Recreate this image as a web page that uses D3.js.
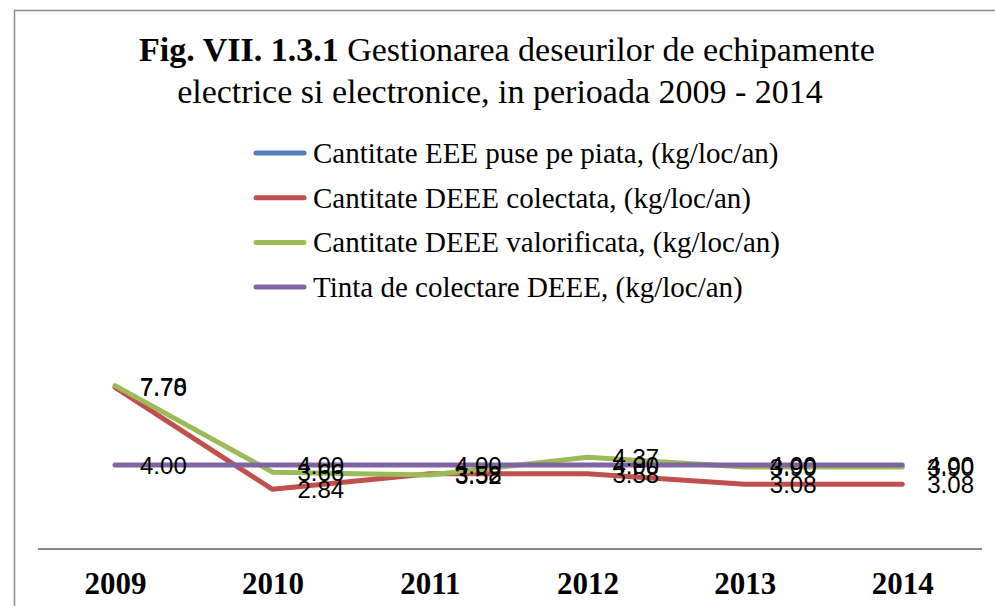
<!DOCTYPE html>
<html>
<head>
<meta charset="utf-8">
<script src="https://cdn.jsdelivr.net/npm/d3@7"></script>
<style>
  body { margin: 0; background: #fff; }
</style>
</head>
<body>
<script>
// chart data
var years = ["2009", "2010", "2011", "2012", "2013", "2014"];
var eeePiata = [null, null, null, null, null, null]; // no values shown in the figure
var deeeColectata = [7.70, 2.84, 3.58, 3.58, 3.08, 3.08];
var deeeValorificata = [7.78, 3.66, 3.52, 4.37, 3.90, 3.90];
var tintaColectare = [4.00, 4.00, 4.00, 4.00, 4.00, 4.00];
var seriesNames = [
    "Cantitate EEE puse pe piata, (kg/loc/an)",
    "Cantitate DEEE colectata, (kg/loc/an)",
    "Cantitate DEEE valorificata, (kg/loc/an)",
    "Tinta de colectare DEEE, (kg/loc/an)"
];
var seriesColors = ["#4F81BD", "#C0504D", "#9BBB59", "#8064A2"];

var w = 995;
var h = 606;

var svg = d3.select("body").append("svg")
    .attr("width", w)
    .attr("height", h);

// outer chart border (chart is cut off at right/bottom)
svg.append("path")
    .attr("d", "M14.5," + (h + 2) + "V10.5H" + (w + 2))
    .attr("fill", "none")
    .attr("stroke", "#8c8c8c")
    .attr("stroke-width", 1.5);

// title
var title = svg.append("text")
    .attr("text-anchor", "middle")
    .attr("font-family", "Liberation Serif, serif")
    .attr("font-size", 34)
    .attr("fill", "#000");
var t1 = title.append("tspan").attr("x", 507).attr("y", 61);
t1.append("tspan").attr("font-weight", "bold").text("Fig. VII. 1.3.1");
t1.append("tspan").text(" Gestionarea deseurilor de echipamente");
title.append("tspan").attr("x", 500).attr("y", 103)
    .text("electrice si electronice, in perioada 2009 - 2014");

// legend
var legend = svg.append("g");
seriesNames.forEach(function(name, i) {
    var ly = 153 + i * 44.7;
    legend.append("line")
        .attr("x1", 256).attr("x2", 304)
        .attr("y1", ly).attr("y2", ly)
        .attr("stroke", seriesColors[i])
        .attr("stroke-width", 5)
        .attr("stroke-linecap", "round");
    legend.append("text")
        .attr("x", 313)
        .attr("y", ly + 10)
        .attr("font-family", "Liberation Serif, serif")
        .attr("font-size", 29)
        .attr("fill", "#000")
        .text(name);
});

// scales
var x = d3.scalePoint()
    .domain(years)
    .range([36.3, 981])
    .padding(0.5);

var y = d3.scaleLinear()
    .domain([0, 10])
    .range([549, 339]);

// x axis
var xAxis = svg.append("g")
    .attr("transform", "translate(0," + y(0) + ")")
    .call(d3.axisBottom(x).tickSize(0).tickPadding(23));
xAxis.select(".domain")
    .attr("d", "M38,0H982")
    .attr("stroke", "#868686")
    .attr("stroke-width", 2);
xAxis.selectAll("text")
    .attr("font-family", "Liberation Serif, serif")
    .attr("font-weight", "bold")
    .attr("font-size", 31)
    .attr("fill", "#000");

var allSeries = [eeePiata, deeeColectata, deeeValorificata, tintaColectare];

var line = d3.line()
    .defined(function(d) { return d != null; })
    .x(function(d, i) { return x(years[i]); })
    .y(function(d) { return y(d); });

allSeries.forEach(function(values, s) {
    svg.append("path")
        .datum(values)
        .attr("d", line)
        .attr("fill", "none")
        .attr("stroke", seriesColors[s])
        .attr("stroke-width", 5)
        .attr("stroke-linecap", "round")
        .attr("stroke-linejoin", "round");
});

// data labels
allSeries.forEach(function(values, s) {
    svg.append("g").selectAll("text")
        .data(values.filter(function(d) { return d != null; }).map(function(d, i) { return {v: d, i: i}; }))
        .enter()
        .append("text")
        .attr("x", function(d) { return x(years[d.i]) + 25; })
        .attr("y", function(d) { return y(d.v) + 9; })
        .attr("font-family", "Liberation Sans, Arial, sans-serif")
        .attr("font-size", 24)
        .attr("fill", "#000")
        .text(function(d) { return d.v.toFixed(2); });
});
</script>
</body>
</html>
